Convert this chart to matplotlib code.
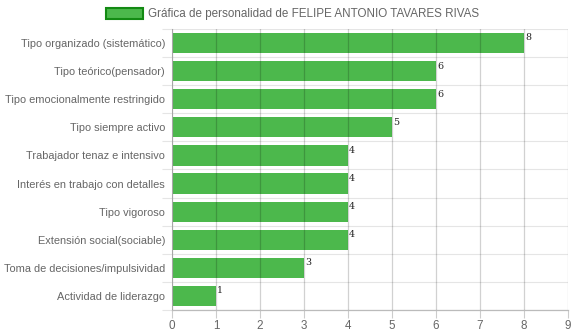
import matplotlib
matplotlib.use("Agg")
import matplotlib.pyplot as plt
import numpy as np
from matplotlib.patches import Rectangle

categories = [
    "Tipo organizado (sistemático)",
    "Tipo teórico(pensador)",
    "Tipo emocionalmente restringido",
    "Tipo siempre activo",
    "Trabajador tenaz e intensivo",
    "Interés en trabajo con detalles",
    "Tipo vigoroso",
    "Extensión social(sociable)",
    "Toma de decisiones/impulsividad",
    "Actividad de liderazgo",
]
values = [8, 6, 6, 5, 4, 4, 4, 4, 3, 1]
x_ticks = [0, 1, 2, 3, 4, 5, 6, 7, 8, 9]
legend_label = "Gráfica de personalidad de FELIPE ANTONIO TAVARES RIVAS"

plt.rcParams['font.family'] = ['Liberation Sans', 'DejaVu Sans']

fig = plt.figure(figsize=(5.74, 3.34), dpi=100)
ax = fig.add_axes([172/574, 1-310/334, 396/574, 281/334])

n = len(categories)
y = np.arange(n)
bar_color = "#4cb84c"
ax.barh(y, values, height=0.72, color=bar_color, zorder=2)

ax.set_xlim(0, 9)
ax.set_ylim(n - 0.5, -0.5)

ax.set_xticks(x_ticks)
ax.set_xticklabels([str(t) for t in x_ticks])
ax.set_yticks(y)
ax.set_yticklabels(categories)
ax.set_yticks(np.arange(-0.5, n, 1.0), minor=True)

ax.tick_params(axis='x', which='major', length=5.5, width=0.8, color='#cccccc',
               labelsize=8.4, labelcolor='#666666', pad=2)
ax.tick_params(axis='y', which='major', length=0, labelsize=7.9,
               labelcolor='#666666', pad=5)
ax.tick_params(axis='y', which='minor', length=7, width=0.8, color='#e5e5e5')

for xv in x_ticks:
    ax.axvline(xv, color='#000000', alpha=0.18, lw=0.9, zorder=3)
for yb in np.arange(-0.5, n, 1.0):
    ax.axhline(yb, color='#e5e5e5', lw=0.8, zorder=1)

for s in ['top', 'right']:
    ax.spines[s].set_visible(False)
ax.spines['left'].set_color('#cccccc')
ax.spines['left'].set_linewidth(0.8)
ax.spines['bottom'].set_color('#bbbbbb')
ax.spines['bottom'].set_linewidth(0.9)

for yi, v in zip(y, values):
    ax.text(v + 0.02, yi - 0.34, str(v), ha='left', va='top',
            fontsize=6.8, family='DejaVu Serif', color='#222222', zorder=4)

# legend
fig.patches.append(Rectangle((106/574, 1-19/334), 37/574, 11/334,
                             transform=fig.transFigure, facecolor=bar_color,
                             edgecolor='#138a13', lw=1.5))
fig.text(148/574, 1-13.5/334, legend_label, ha='left', va='center',
         fontsize=8.4, color='#666666')

fig.savefig("out.png", dpi=100)
